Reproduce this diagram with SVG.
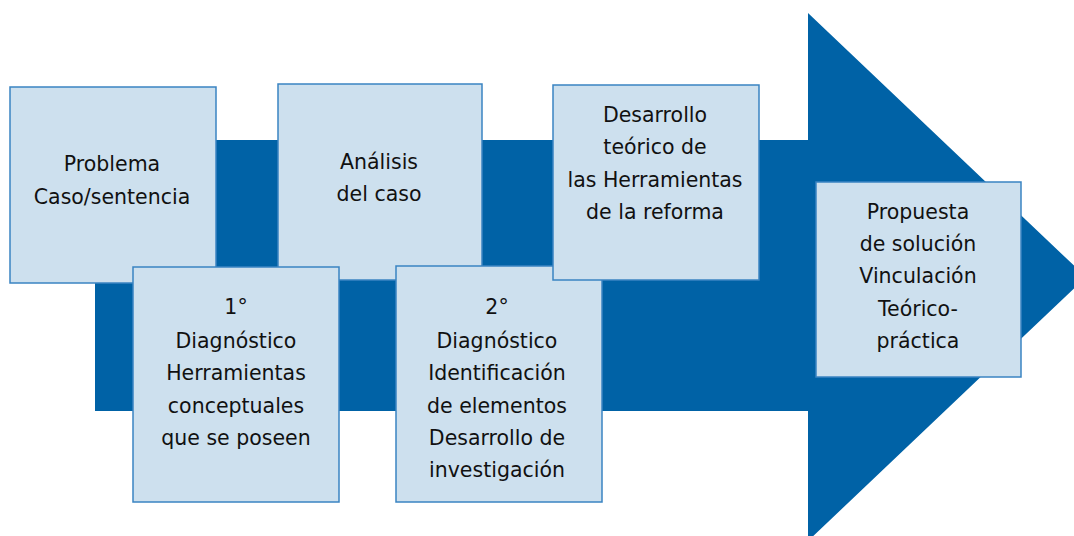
<svg xmlns="http://www.w3.org/2000/svg" width="1074" height="536" viewBox="0 0 1074 536">
<style>
.box{fill:#cde0ee;stroke:#3a84c2;stroke-width:1.5}
.t{font-family:"DejaVu Sans",Verdana,sans-serif;font-size:20.5px;fill:#111;text-anchor:middle}
</style>
<rect width="1074" height="536" fill="#fff"/>
<g id="arrow">
<path d="M95,140 H808 V13 L1086,277 L808,541 V411 H95 Z" fill="#0062a6"/>
</g>
<g id="connectors"></g>
<g id="n1"><rect class="box" x="10" y="87" width="206" height="196"/>
<text class="t" x="112" y="171">Problema</text><text class="t" x="112" y="204">Caso/sentencia</text></g>
<g id="n2"><rect class="box" x="278" y="84" width="204" height="196"/>
<text class="t" x="379" y="169">Análisis</text><text class="t" x="379" y="201">del caso</text></g>
<g id="n3"><rect class="box" x="133" y="267" width="206" height="235"/>
<text class="t" x="236" y="314">1°</text><text class="t" x="236" y="348">Diagnóstico</text><text class="t" x="236" y="380">Herramientas</text><text class="t" x="236" y="413">conceptuales</text><text class="t" x="236" y="445">que se poseen</text></g>
<g id="n4"><rect class="box" x="396" y="266" width="206" height="236"/>
<text class="t" x="497" y="314">2°</text><text class="t" x="497" y="348">Diagnóstico</text><text class="t" x="497" y="380">Identificación</text><text class="t" x="497" y="413">de elementos</text><text class="t" x="497" y="445">Desarrollo de </text><text class="t" x="497" y="477">investigación</text></g>
<g id="n5"><rect class="box" x="553" y="85" width="206" height="195"/>
<text class="t" x="655" y="122">Desarrollo</text><text class="t" x="655" y="154">teórico de</text><text class="t" x="655" y="187">las Herramientas</text><text class="t" x="655" y="219">de la reforma</text></g>
<g id="n6"><rect class="box" x="816" y="182" width="205" height="195"/>
<text class="t" x="918" y="219">Propuesta</text><text class="t" x="918" y="251">de solución</text><text class="t" x="918" y="283">Vinculación</text><text class="t" x="918" y="316">Teórico-</text><text class="t" x="918" y="348">práctica</text></g>
</svg>
